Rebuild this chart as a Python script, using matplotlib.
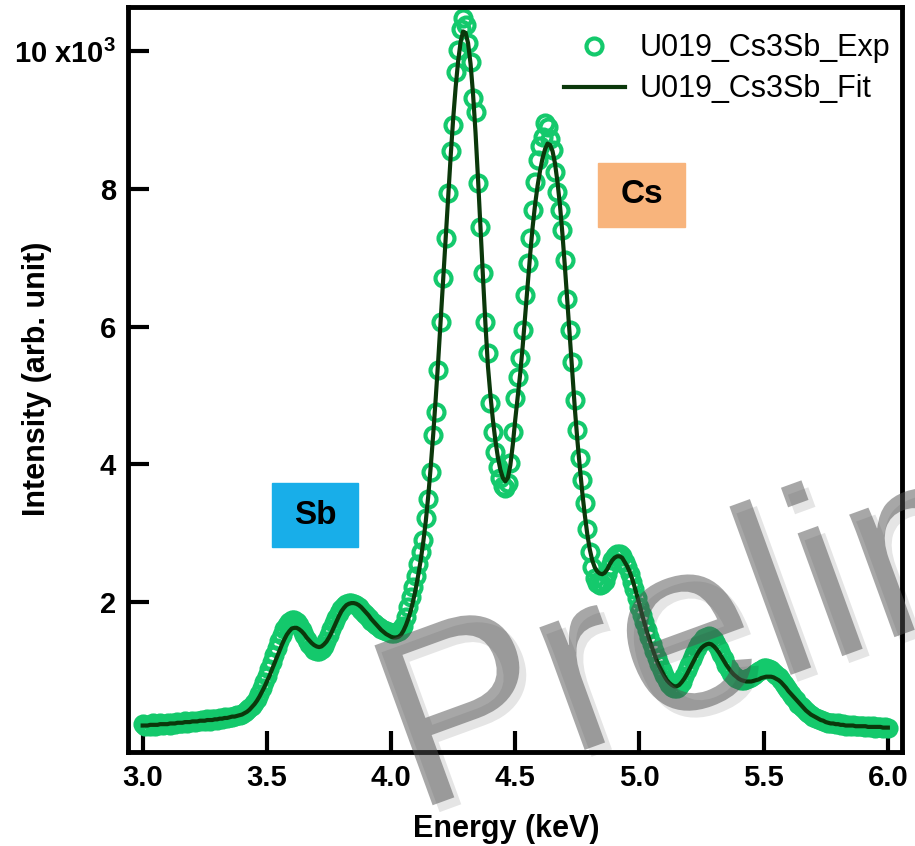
import matplotlib
matplotlib.use('Agg')
import matplotlib.pyplot as plt
import matplotlib.patheffects as pe
from matplotlib.patches import Rectangle
import numpy as np

# energy channels, 3.00 .. 6.00 keV in 0.01 keV steps
energy = np.linspace(3.0, 6.0, 301)

exp_counts = [
    0.22, 0.19, 0.21, 0.20, 0.23, 0.20, 0.21, 0.24, 0.21, 0.22,
    0.23, 0.21, 0.24, 0.22, 0.25, 0.23, 0.24, 0.26, 0.23, 0.25,
    0.27, 0.25, 0.27, 0.26, 0.28, 0.27, 0.29, 0.27, 0.29, 0.30,
    0.28, 0.31, 0.30, 0.32, 0.31, 0.33, 0.32, 0.34, 0.35, 0.35,
    0.37, 0.39, 0.42, 0.45, 0.49, 0.53, 0.58, 0.66, 0.74, 0.83,
    0.92, 1.02, 1.12, 1.23, 1.33, 1.43, 1.52, 1.60, 1.66, 1.71,
    1.74, 1.74, 1.71, 1.66, 1.59, 1.52, 1.45, 1.39, 1.34, 1.30,
    1.28, 1.28, 1.31, 1.36, 1.43, 1.51, 1.60, 1.69, 1.77, 1.84,
    1.90, 1.94, 1.97, 1.98, 1.98, 1.97, 1.95, 1.92, 1.88, 1.84,
    1.80, 1.76, 1.72, 1.69, 1.66, 1.63, 1.61, 1.59, 1.57, 1.56,
    1.55, 1.55, 1.56, 1.58, 1.61, 1.65, 1.78, 1.92, 2.07, 2.22,
    2.38, 2.55, 2.72, 2.90, 3.21, 3.50, 3.89, 4.42, 4.76, 5.37,
    6.07, 6.70, 7.29, 7.94, 8.55, 8.93, 9.70, 10.02, 10.32, 10.48,
    10.38, 10.12, 9.85, 9.32, 9.12, 8.09, 7.45, 6.78, 6.07, 5.61,
    4.89, 4.47, 4.18, 3.96, 3.80, 3.68, 3.65, 3.72, 4.02, 4.47,
    4.96, 5.27, 5.54, 5.95, 6.46, 6.92, 7.29, 7.70, 8.10, 8.42,
    8.62, 8.76, 8.96, 8.90, 8.72, 8.57, 8.25, 7.95, 7.70, 7.41,
    6.97, 6.40, 5.95, 5.49, 4.93, 4.50, 4.09, 3.77, 3.43, 3.05,
    2.72, 2.50, 2.35, 2.27, 2.24, 2.26, 2.30, 2.40, 2.52, 2.60,
    2.66, 2.70, 2.70, 2.66, 2.58, 2.50, 2.40, 2.28, 2.18, 2.05,
    1.93, 1.81, 1.70, 1.59, 1.48, 1.38, 1.28, 1.18, 1.09, 1.00,
    0.93, 0.86, 0.80, 0.76, 0.74, 0.75, 0.78, 0.84, 0.92, 1.00,
    1.08, 1.16, 1.24, 1.32, 1.38, 1.43, 1.47, 1.49, 1.50, 1.48,
    1.44, 1.38, 1.31, 1.24, 1.16, 1.08, 1.02, 0.96, 0.92, 0.89,
    0.87, 0.86, 0.86, 0.87, 0.89, 0.91, 0.94, 0.97, 0.99, 1.01,
    1.03, 1.03, 1.02, 1.00, 0.97, 0.94, 0.90, 0.86, 0.81, 0.76,
    0.71, 0.66, 0.61, 0.57, 0.52, 0.48, 0.45, 0.41, 0.38, 0.36,
    0.33, 0.31, 0.29, 0.28, 0.26, 0.25, 0.24, 0.24, 0.23, 0.22,
    0.23, 0.21, 0.22, 0.20, 0.21, 0.20, 0.21, 0.19, 0.20, 0.19,
    0.20, 0.18, 0.19, 0.18, 0.19, 0.17, 0.18, 0.18, 0.17, 0.18,
    0.17]

# fitted curve (x10^3)
fit_counts = [
    0.20, 0.20, 0.20, 0.21, 0.21, 0.21, 0.21, 0.22, 0.22, 0.22,
    0.22, 0.23, 0.23, 0.23, 0.24, 0.24, 0.24, 0.25, 0.25, 0.25,
    0.26, 0.26, 0.26, 0.27, 0.27, 0.27, 0.28, 0.28, 0.28, 0.29,
    0.29, 0.30, 0.30, 0.31, 0.31, 0.32, 0.33, 0.33, 0.34, 0.35,
    0.36, 0.38, 0.40, 0.43, 0.47, 0.51, 0.56, 0.62, 0.69, 0.76,
    0.84, 0.92, 1.01, 1.10, 1.19, 1.28, 1.37, 1.45, 1.52, 1.57,
    1.61, 1.62, 1.62, 1.60, 1.57, 1.53, 1.48, 1.44, 1.40, 1.37,
    1.35, 1.34, 1.35, 1.38, 1.42, 1.48, 1.55, 1.63, 1.71, 1.79,
    1.86, 1.91, 1.95, 1.97, 1.98, 1.98, 1.97, 1.95, 1.92, 1.88,
    1.84, 1.80, 1.75, 1.71, 1.67, 1.63, 1.59, 1.56, 1.53, 1.51,
    1.49, 1.48, 1.48, 1.49, 1.52, 1.58, 1.66, 1.76, 1.88, 2.03,
    2.20, 2.40, 2.62, 2.88, 3.18, 3.55, 3.98, 4.45, 4.97, 5.52,
    6.10, 6.70, 7.30, 7.90, 8.48, 9.02, 9.48, 9.86, 10.14, 10.29,
    10.27, 10.12, 9.82, 9.38, 8.82, 8.15, 7.42, 6.72, 6.03, 5.42,
    5.00, 4.64, 4.34, 4.10, 3.92, 3.80, 3.75, 3.80, 3.98, 4.28,
    4.65, 4.98, 5.32, 5.72, 6.17, 6.62, 7.05, 7.45, 7.78, 8.05,
    8.27, 8.45, 8.58, 8.66, 8.64, 8.55, 8.37, 8.10, 7.76, 7.34,
    6.86, 6.34, 5.81, 5.29, 4.80, 4.35, 3.95, 3.58, 3.26, 2.98,
    2.76, 2.60, 2.50, 2.44, 2.41, 2.40, 2.42, 2.47, 2.54, 2.60,
    2.64, 2.66, 2.66, 2.64, 2.58, 2.52, 2.44, 2.34, 2.22, 2.09,
    1.96, 1.82, 1.69, 1.56, 1.45, 1.34, 1.24, 1.14, 1.06, 0.99,
    0.92, 0.86, 0.82, 0.79, 0.77, 0.77, 0.79, 0.83, 0.88, 0.94,
    1.01, 1.08, 1.15, 1.22, 1.28, 1.33, 1.36, 1.38, 1.39, 1.38,
    1.35, 1.31, 1.26, 1.20, 1.14, 1.08, 1.03, 0.98, 0.94, 0.91,
    0.88, 0.86, 0.85, 0.84, 0.84, 0.84, 0.85, 0.86, 0.87, 0.89,
    0.90, 0.91, 0.91, 0.91, 0.90, 0.88, 0.86, 0.83, 0.79, 0.75,
    0.70, 0.66, 0.62, 0.58, 0.54, 0.50, 0.46, 0.42, 0.39, 0.36,
    0.34, 0.32, 0.30, 0.28, 0.27, 0.25, 0.24, 0.23, 0.23, 0.22,
    0.22, 0.21, 0.21, 0.20, 0.20, 0.20, 0.20, 0.19, 0.19, 0.19,
    0.19, 0.19, 0.18, 0.18, 0.18, 0.18, 0.18, 0.18, 0.17, 0.17,
    0.17]

xticks = [3.0, 3.5, 4.0, 4.5, 5.0, 5.5, 6.0]
xticklabels = ['3.0', '3.5', '4.0', '4.5', '5.0', '5.5', '6.0']
yticks = [2, 4, 6, 8, 10]
yticklabels = ['2', '4', '6', '8', r'10 x10$^{\mathbf{3}}$']
series_names = ['U019_Cs3Sb_Exp', 'U019_Cs3Sb_Fit']
element_names = ['Sb', 'Cs']

plt.rcParams['font.family'] = ['Liberation Sans', 'DejaVu Sans']
plt.rcParams['mathtext.fontset'] = 'custom'
plt.rcParams['mathtext.bf'] = 'Liberation Sans:bold'
plt.rcParams['mathtext.rm'] = 'Liberation Sans:bold'

fig = plt.figure(figsize=(9.15, 8.46), dpi=100)
ax = fig.add_axes([0.1402, 0.1115, 0.8456, 0.8806])

ax.plot(energy, exp_counts, 'o', ms=11.5, mfc='none', mec='#14c96c', mew=3.0,
        label=series_names[0], zorder=2)
ax.plot(energy, fit_counts, '-', color='#0b380b', lw=3.0,
        label=series_names[1], zorder=3)

ax.set_xlim(2.942, 6.057)
ax.set_ylim(-0.18, 10.65)
ax.set_xticks(xticks)
ax.set_xticklabels(xticklabels)
ax.set_yticks(yticks)
ax.set_yticklabels(yticklabels)
ax.tick_params(direction='in', length=15, width=3, labelsize=21, pad=9)
for lab in ax.get_xticklabels() + ax.get_yticklabels():
    lab.set_fontweight('bold')
for s in ax.spines.values():
    s.set_linewidth(3.5)

ax.set_xlabel('Energy (keV)', fontsize=22, fontweight='bold')
ax.xaxis.set_label_coords(0.489, -0.083)
ax.set_ylabel('Intensity (arb. unit)', fontsize=22, fontweight='bold')
ax.yaxis.set_label_coords(-0.098, 0.5)

ax.legend(loc='upper right', bbox_to_anchor=(1.013, 0.993), frameon=False,
          fontsize=22, handlelength=2.0, handletextpad=0.5,
          labelspacing=0.36, borderaxespad=0.3)

# element tags
ax.add_patch(Rectangle((3.519, 2.80), 0.349, 0.92, color='#18aee9', zorder=1))
ax.text(3.6935, 3.26, element_names[0], fontsize=24, fontweight='bold',
        ha='center', va='center', zorder=4)
ax.add_patch(Rectangle((4.834, 7.45), 0.349, 0.93, color='#f8b47c', zorder=1))
ax.text(5.0085, 7.915, element_names[1], fontsize=24, fontweight='bold',
        ha='center', va='center', zorder=4)

# watermark
fig.text(0.452, 0.040, 'Preliminary', fontsize=178, color='#505050', alpha=0.5,
         rotation=20, rotation_mode='anchor', ha='left', va='baseline', zorder=10,
         path_effects=[pe.withSimplePatchShadow(offset=(5, -5), shadow_rgbFace='k', alpha=0.1)])

fig.savefig('out.png', dpi=100)
